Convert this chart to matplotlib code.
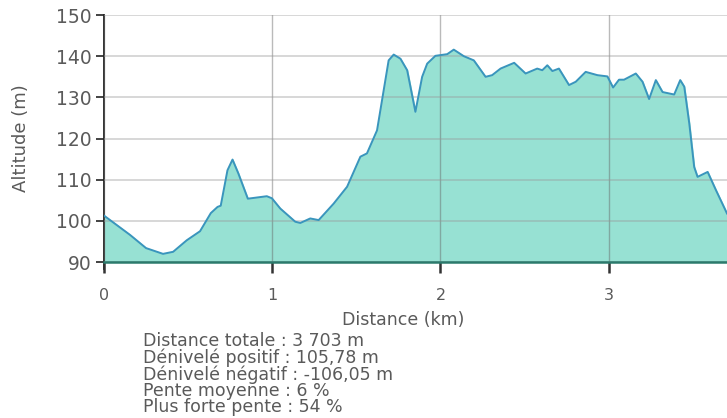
import matplotlib.pyplot as plt
import matplotlib.ticker as ticker

# profil altimétrique (distance en km, altitude en m)
dist = [0.000, 0.155, 0.250, 0.351, 0.411, 0.492, 0.571, 0.635, 0.675, 0.694,
        0.734, 0.764, 0.799, 0.855, 0.968, 0.998, 1.048, 1.137, 1.167, 1.226,
        1.276, 1.365, 1.445, 1.524, 1.563, 1.623, 1.692, 1.722, 1.762, 1.802,
        1.851, 1.891, 1.921, 1.970, 2.040, 2.079, 2.139, 2.198, 2.268, 2.307,
        2.357, 2.438, 2.506, 2.575, 2.605, 2.635, 2.665, 2.704, 2.764, 2.804,
        2.863, 2.933, 2.992, 3.026, 3.061, 3.091, 3.161, 3.201, 3.240, 3.280,
        3.320, 3.389, 3.425, 3.449, 3.479, 3.508, 3.528, 3.588, 3.637, 3.703]
alt = [101.3, 96.6, 93.4, 92.0, 92.5, 95.3, 97.5, 101.9, 103.4, 103.7,
       112.3, 114.9, 111.5, 105.4, 106.0, 105.5, 103.0, 99.8, 99.5, 100.6,
       100.2, 104.2, 108.3, 115.6, 116.4, 122.0, 139.0, 140.4, 139.4, 136.6,
       126.5, 135.0, 138.2, 140.1, 140.5, 141.6, 140.0, 139.0, 135.0, 135.4,
       137.0, 138.4, 135.8, 137.0, 136.6, 137.8, 136.4, 137.0, 133.0, 133.8,
       136.2, 135.4, 135.1, 132.4, 134.3, 134.3, 135.8, 133.8, 129.6, 134.2,
       131.3, 130.7, 134.2, 132.6, 123.6, 113.1, 110.7, 111.9, 107.5, 101.8]

stats = ['Distance totale : 3 703 m',
         'Dénivelé positif : 105,78 m',
         'Dénivelé négatif : -106,05 m',
         'Pente moyenne : 6 %',
         'Plus forte pente : 54 %']

txt = '#5a5a5a'
fig = plt.figure(figsize=(7.27, 4.18), dpi=100)
ax = fig.add_axes([0.143, 0.373, 0.857, 0.591])

ax.fill_between(dist, alt, 90, color='#97e1d3', zorder=1)
ax.plot(dist, alt, color='#3a95bd', linewidth=1.4, zorder=3)

ax.set_xlim(0, 3.703)
ax.set_ylim(90, 150)
ax.xaxis.set_major_locator(ticker.MultipleLocator(1))
ax.yaxis.set_major_locator(ticker.MultipleLocator(10))

ax.grid(axis='y', color='#999999', alpha=0.45, linewidth=1.2, zorder=2)
ax.grid(axis='x', color='#666666', alpha=0.45, linewidth=1.0, zorder=2)
ax.set_axisbelow(False)

for s in ['top', 'right']:
    ax.spines[s].set_visible(False)
ax.spines['left'].set_color('#222222')
ax.spines['left'].set_linewidth(1.3)
ax.spines['left'].set_bounds(88.2, 150)
ax.spines['bottom'].set_color('#2b7a6c')
ax.spines['bottom'].set_linewidth(1.8)
ax.spines['bottom'].set_zorder(4)

ax.tick_params(axis='y', length=6, width=1.2, color='#222222',
               labelsize=13.5, labelcolor=txt, pad=3)
ax.tick_params(axis='x', length=8, width=1.8, color='#333333',
               labelsize=11.5, labelcolor=txt, pad=11)

ax.set_ylabel('Altitude (m)', fontsize=13, color=txt)
ax.yaxis.set_label_coords(-0.118, 0.5)
ax.set_xlabel('Distance (km)', fontsize=12.5, color=txt)
ax.xaxis.set_label_coords(0.481, -0.2)

fig.text(0.197, 0.205, '\n'.join(stats), fontsize=12.5, color=txt,
         va='top', ha='left', linespacing=0.88)

plt.savefig('out.png', dpi=100)
